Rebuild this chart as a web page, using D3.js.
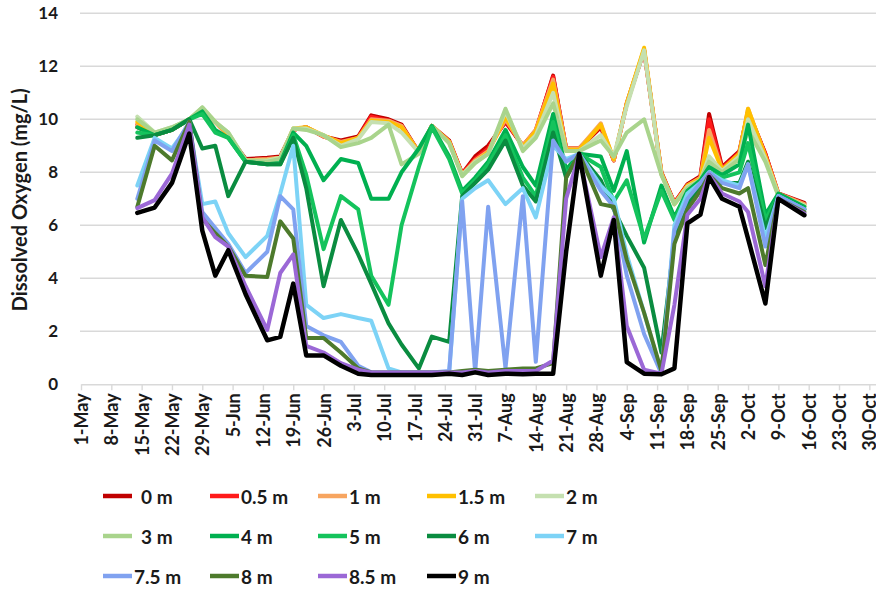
<!DOCTYPE html>
<html>
<head>
<meta charset="utf-8">
<script src="https://cdn.jsdelivr.net/npm/d3@7"></script>
<style>
  body { margin: 0; background: #fff; }
  text { font-family: Lato, "Open Sans", sans-serif; fill: #1a1a1a; }
</style>
</head>
<body>
<svg id="chart" width="876" height="589"></svg>
<script>
// Sampling dates (2019 season)
const sampleDates = [
  "2019-05-14","2019-05-18","2019-05-22","2019-05-26","2019-05-29","2019-06-01","2019-06-04","2019-06-08",
  "2019-06-13","2019-06-16","2019-06-19","2019-06-22","2019-06-26","2019-06-30","2019-07-04","2019-07-07",
  "2019-07-11","2019-07-14","2019-07-18","2019-07-21","2019-07-25","2019-07-28","2019-07-31","2019-08-03",
  "2019-08-07","2019-08-11","2019-08-14","2019-08-18","2019-08-21","2019-08-24","2019-08-29","2019-09-01",
  "2019-09-04","2019-09-08","2019-09-12","2019-09-15","2019-09-18","2019-09-21","2019-09-23","2019-09-26",
  "2019-09-30","2019-10-02","2019-10-06","2019-10-09","2019-10-15"
];

// Dissolved oxygen (mg/L) by depth
const do0m  = [9.7,9.4,9.6,10.0,10.35,9.9,9.4,8.5,8.55,8.6,9.6,9.7,9.35,9.2,9.35,10.15,10.0,9.8,8.75,9.75,9.2,7.95,8.6,9.0,9.9,9.0,9.55,11.65,8.9,8.9,9.7,8.45,10.6,12.6,8.0,6.85,7.55,7.85,10.2,8.2,8.8,10.3,8.7,7.2,6.85];
const do05m = [9.8,9.4,9.6,10.0,10.35,9.9,9.4,8.45,8.5,8.55,9.6,9.7,9.35,9.15,9.3,10.1,9.95,9.75,8.75,9.75,9.15,7.95,8.5,8.9,9.95,9.0,9.6,11.6,8.9,8.9,9.75,8.45,10.6,12.6,7.95,6.85,7.5,7.8,10.0,8.15,8.75,10.3,8.7,7.2,6.8];
const do1m  = [9.8,9.45,9.65,10.0,10.4,9.9,9.4,8.45,8.5,8.55,9.6,9.7,9.35,9.15,9.3,10.0,9.95,9.75,8.75,9.75,9.15,7.9,8.45,8.8,10.0,9.0,9.6,11.5,8.9,8.9,9.85,8.45,10.6,12.65,7.95,6.8,7.5,7.8,9.6,8.1,8.7,10.4,8.6,7.2,6.8];
const do15m = [9.9,9.45,9.65,10.0,10.4,9.9,9.45,8.45,8.45,8.55,9.65,9.7,9.4,9.1,9.3,9.95,9.9,9.7,8.75,9.75,9.15,7.9,8.4,8.75,10.1,8.95,9.55,11.35,8.85,8.85,9.8,8.5,10.6,12.7,7.95,6.8,7.5,7.75,9.3,8.1,8.7,10.4,8.6,7.15,6.75];
const do2m  = [10.1,9.5,9.7,10.0,10.45,9.9,9.5,8.45,8.45,8.55,9.65,9.65,9.4,9.0,9.25,9.9,9.85,9.5,8.75,9.75,9.1,7.9,8.4,8.7,10.3,8.9,9.4,11.0,8.8,8.8,9.4,8.6,10.5,12.6,7.9,6.8,7.45,7.7,8.6,8.05,8.6,10.0,8.5,7.15,6.75];
const do3m  = [10.0,9.5,9.7,10.0,10.45,9.9,9.5,8.45,8.4,8.5,9.65,9.6,9.4,8.95,9.1,9.3,9.8,8.3,8.7,9.75,9.1,7.85,8.35,8.7,10.4,8.8,9.3,10.6,8.8,8.8,9.2,8.6,9.5,10.0,7.9,6.8,7.4,7.7,8.4,8.0,8.5,9.6,8.4,7.1,6.7];
const do4m  = [9.7,9.4,9.6,10.0,10.3,9.6,9.3,8.4,8.3,8.35,9.5,9.0,7.7,8.5,8.35,7.0,7.0,8.0,8.9,9.75,8.6,7.3,7.8,8.4,9.6,8.2,7.5,10.2,8.1,8.7,8.6,7.3,8.8,5.35,7.5,6.3,7.3,7.7,8.2,7.9,8.3,9.8,6.4,7.2,6.7];
const do5m  = [9.5,9.4,9.6,10.0,10.2,9.5,9.3,8.4,8.3,8.3,9.4,7.9,5.1,7.1,6.6,4.1,3.0,6.0,8.2,9.7,8.5,7.2,7.7,8.3,9.4,7.8,7.1,9.9,7.9,8.7,8.2,6.9,7.7,5.5,7.3,6.2,7.2,7.6,8.0,7.8,8.0,9.1,6.2,7.1,6.6];
const do6m  = [9.3,9.4,9.6,10.0,8.9,9.0,7.1,8.4,8.3,8.3,9.3,7.4,3.7,6.2,4.9,3.8,2.3,1.5,0.6,1.8,1.6,7.1,7.6,8.1,9.2,7.5,6.9,9.5,7.8,8.7,7.7,6.6,5.6,4.4,1.2,5.5,6.8,7.5,7.9,7.6,7.6,8.4,5.9,7.1,6.6];
const do7m  = [7.5,9.3,8.9,9.8,6.8,6.9,5.7,4.8,5.6,7.2,9.0,3.0,2.5,2.65,2.5,2.4,0.6,0.45,0.45,0.45,0.45,7.0,7.4,7.7,6.8,7.4,6.3,9.0,8.5,8.7,7.5,7.0,4.9,2.7,0.4,6.0,7.2,7.6,8.0,7.7,7.5,8.3,5.5,7.1,6.6];
const do75m = [7.0,9.2,8.8,9.9,6.5,5.9,5.3,4.2,5.0,7.1,6.6,2.2,1.85,1.6,0.7,0.45,0.45,0.45,0.45,0.45,0.5,6.9,0.45,6.7,0.6,7.1,0.85,9.2,8.4,8.7,7.3,6.7,4.1,1.9,0.4,5.8,7.0,7.6,8.0,7.6,7.4,8.3,5.2,7.1,6.6];
const do8m  = [6.7,9.0,8.45,9.9,6.25,5.7,5.2,4.1,4.05,6.15,5.5,1.75,1.75,1.2,0.6,0.45,0.45,0.45,0.45,0.45,0.45,0.5,0.55,0.5,0.55,0.6,0.6,0.8,7.8,8.7,6.8,6.7,4.7,2.7,0.5,5.3,6.6,7.3,7.9,7.4,7.2,7.4,4.5,7.0,6.5];
const do85m = [6.65,6.95,7.95,9.8,6.3,5.55,5.2,3.7,2.05,4.2,4.9,1.45,1.2,0.8,0.55,0.45,0.45,0.45,0.45,0.45,0.45,0.45,0.5,0.45,0.5,0.5,0.5,0.9,7.0,8.65,4.8,6.3,2.2,0.55,0.4,3.0,6.4,7.0,7.9,7.2,6.9,6.5,3.7,7.0,6.45];
const do9m  = [6.47,6.67,7.6,9.46,5.8,4.1,5.06,3.4,1.66,1.79,3.8,1.09,1.09,0.7,0.4,0.35,0.35,0.35,0.35,0.35,0.4,0.35,0.45,0.35,0.4,0.38,0.4,0.4,5.0,8.7,4.1,6.2,0.84,0.4,0.38,0.6,6.07,6.4,7.82,7.0,6.7,5.5,3.05,7.0,6.38];

const depthLabels = ["0 m","0.5 m","1 m","1.5 m","2 m","3 m","4 m","5 m","6 m","7 m","7.5 m","8 m","8.5 m","9 m"];
const depthColors = ["#c00000","#ff1a1a","#f7a560","#ffc000","#c5e0b0","#a9d48c","#00b050","#14c35c","#0a8c40","#7dd3f6","#80a2f0","#4d7a2c","#9b68d6","#000000"];
const depthValues = [do0m,do05m,do1m,do15m,do2m,do3m,do4m,do5m,do6m,do7m,do75m,do8m,do85m,do9m];

// Axis ticks
const tickDates = [
  "2019-05-01","2019-05-08","2019-05-15","2019-05-22","2019-05-29","2019-06-05","2019-06-12","2019-06-19",
  "2019-06-26","2019-07-03","2019-07-10","2019-07-17","2019-07-24","2019-07-31","2019-08-07","2019-08-14",
  "2019-08-21","2019-08-28","2019-09-04","2019-09-11","2019-09-18","2019-09-25","2019-10-02","2019-10-09",
  "2019-10-16","2019-10-23","2019-10-30"
];
const tickLabels = [
  "1-May","8-May","15-May","22-May","29-May","5-Jun","12-Jun","19-Jun","26-Jun","3-Jul","10-Jul","17-Jul",
  "24-Jul","31-Jul","7-Aug","14-Aug","21-Aug","28-Aug","4-Sep","11-Sep","18-Sep","25-Sep","2-Oct","9-Oct",
  "16-Oct","23-Oct","30-Oct"
];
const yTickValues = [0,2,4,6,8,10,12,14];

const parse = d3.utcParse("%Y-%m-%d");
const svg = d3.select("#chart");

const x = d3.scaleUtc()
  .domain([parse("2019-05-01"), parse("2019-11-01")])
  .range([81, 878]);
const y = d3.scaleLinear().domain([0, 14]).range([384.3, 13.3]);

// Horizontal gridlines
svg.append("g")
  .selectAll("line")
  .data(yTickValues.filter(v => v > 0))
  .join("line")
  .attr("x1", 80).attr("x2", 878)
  .attr("y1", d => y(d)).attr("y2", d => y(d))
  .attr("stroke", "#d9d9d9").attr("stroke-width", 1.6);

// X axis
const tickMap = new Map(tickDates.map((d, i) => [+parse(d), tickLabels[i]]));
const xAxis = d3.axisBottom(x)
  .tickValues(tickDates.map(parse))
  .tickFormat(d => tickMap.get(+d))
  .tickSize(6)
  .tickSizeOuter(0);
const gx = svg.append("g").attr("transform", `translate(0,${y(0)})`).call(xAxis);
gx.select(".domain").attr("stroke", "#d9d9d9").attr("stroke-width", 1.6);
gx.selectAll(".tick line").attr("stroke", "#d9d9d9").attr("stroke-width", 1.4);
gx.selectAll(".tick text")
  .attr("transform", "rotate(-90)")
  .attr("text-anchor", "end")
  .attr("x", -9)
  .attr("y", 0)
  .attr("dy", "0.36em")
  .style("font-size", "18px")
  .style("font-weight", "700")
  .style("fill", "#1a1a1a");

// Y axis labels
const yAxis = d3.axisLeft(y).tickValues(yTickValues).tickSize(0).tickPadding(0);
const gy = svg.append("g").attr("transform", "translate(58,0)").call(yAxis);
gy.select(".domain").remove();
gy.selectAll(".tick text")
  .style("font-size", "17px")
  .style("font-weight", "700")
  .style("fill", "#1a1a1a");

svg.append("text")
  .attr("transform", `translate(19,${(y(0) + y(14)) / 2 + 1}) rotate(-90)`)
  .attr("text-anchor", "middle")
  .attr("dominant-baseline", "central")
  .style("font-size", "20px")
  .style("font-weight", "700")
  .text("Dissolved Oxygen (mg/L)");

// Depth profiles, shallowest first so the deepest sits on top
const dates = sampleDates.map(parse);
const line = d3.line()
  .defined(d => d.v != null)
  .x(d => x(d.t))
  .y(d => y(d.v));

svg.append("g")
  .selectAll("path")
  .data(depthValues.map((vals, k) => ({ k, pts: vals.map((v, i) => ({ t: dates[i], v })) })))
  .join("path")
  .attr("d", d => line(d.pts))
  .attr("fill", "none")
  .attr("stroke", d => depthColors[d.k])
  .attr("stroke-width", d => d.k === 13 ? 4.5 : 4)
  .attr("stroke-linejoin", "round")
  .attr("stroke-linecap", "round");

// Legend: 5 columns, 3 rows
const legendCols = [103, 210, 318, 427, 535];
const legendRows = [496, 536, 576];
const lg = svg.append("g")
  .selectAll("g")
  .data(depthLabels.map((label, k) => ({ label, k })))
  .join("g")
  .attr("transform", d => `translate(${legendCols[d.k % 5]},${legendRows[Math.floor(d.k / 5)]})`);
lg.append("line")
  .attr("x1", 0).attr("x2", 29)
  .attr("stroke", d => depthColors[d.k])
  .attr("stroke-width", 4.5);
lg.append("text")
  .attr("x", d => (d.k === 0 || d.k === 5) ? 38 : 31)
  .attr("dominant-baseline", "central")
  .style("font-size", "19px")
  .style("font-weight", "700")
  .text(d => d.label);
</script>
</body>
</html>
